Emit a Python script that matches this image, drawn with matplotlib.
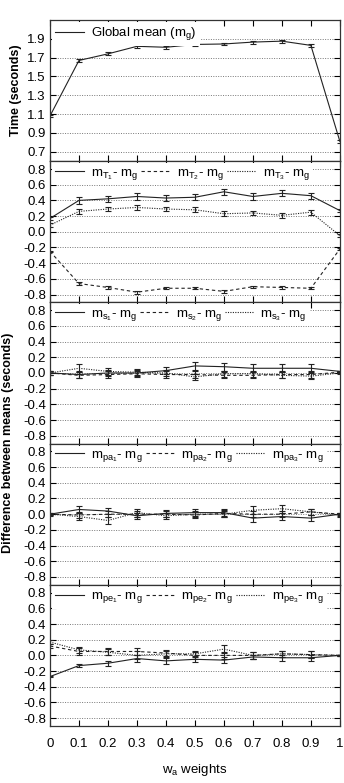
import matplotlib
matplotlib.use('Agg')
import matplotlib.pyplot as plt
from matplotlib.lines import Line2D

plt.rcParams['font.family'] = ['Liberation Sans', 'DejaVu Sans']
plt.rcParams['mathtext.default'] = 'regular'

# Gewichte w_a
gewichte = [0, 0.1, 0.2, 0.3, 0.4, 0.5, 0.6, 0.7, 0.8, 0.9, 1]
x_labels = ['0', '0.1', '0.2', '0.3', '0.4', '0.5', '0.6', '0.7', '0.8', '0.9', '1']

# Panel 1: globaler Mittelwert
m_g = [1.08, 1.67, 1.74, 1.82, 1.81, 1.84, 1.845, 1.865, 1.875, 1.83, 0.81]
m_g_err = [0.015, 0.02, 0.015, 0.015, 0.015, 0.015, 0.015, 0.015, 0.015, 0.015, 0.02]

# Panel 2: T
m_t1 = [0.17, 0.40, 0.42, 0.45, 0.43, 0.44, 0.51, 0.45, 0.49, 0.46, 0.27]
m_t2 = [-0.25, -0.66, -0.71, -0.77, -0.72, -0.72, -0.76, -0.70, -0.71, -0.72, -0.22]
m_t3 = [0.085, 0.26, 0.29, 0.31, 0.29, 0.28, 0.23, 0.24, 0.21, 0.25, -0.05]
m_t1_err = [0.02, 0.04, 0.04, 0.05, 0.04, 0.04, 0.04, 0.04, 0.04, 0.04, 0.02]
m_t2_err = [0.01, 0.015, 0.015, 0.02, 0.015, 0.015, 0.015, 0.015, 0.015, 0.015, 0.01]
m_t3_err = [0.03, 0.03, 0.03, 0.03, 0.03, 0.03, 0.03, 0.03, 0.03, 0.03, 0.02]

# Panel 3: s
m_s1 = [0.0, -0.02, 0.0, 0.0, 0.03, 0.09, 0.08, 0.06, 0.06, 0.06, 0.02]
m_s2 = [0.0, -0.03, -0.02, -0.01, -0.02, -0.02, -0.03, -0.03, -0.02, -0.02, 0.01]
m_s3 = [0.0, 0.06, 0.02, 0.01, 0.0, -0.05, -0.01, -0.01, -0.03, -0.04, 0.0]
m_s1_err = [0.03, 0.04, 0.04, 0.04, 0.04, 0.05, 0.05, 0.05, 0.05, 0.05, 0.01]
m_s2_err = [0.02, 0.04, 0.04, 0.04, 0.04, 0.04, 0.04, 0.04, 0.04, 0.04, 0.01]
m_s3_err = [0.02, 0.05, 0.04, 0.04, 0.04, 0.04, 0.04, 0.04, 0.04, 0.04, 0.01]

# Panel 4: pa
m_pa1 = [0.0, 0.06, 0.04, -0.02, 0.01, 0.02, 0.02, -0.05, -0.03, -0.05, 0.0]
m_pa2 = [0.0, -0.01, 0.0, 0.0, 0.0, -0.01, 0.01, 0.0, 0.0, 0.03, 0.0]
m_pa3 = [0.0, -0.03, -0.08, 0.02, -0.02, 0.0, 0.0, 0.05, 0.07, 0.03, -0.01]
m_pa1_err = [0.02, 0.05, 0.04, 0.04, 0.04, 0.04, 0.04, 0.05, 0.04, 0.04, 0.02]
m_pa2_err = [0.01, 0.04, 0.04, 0.04, 0.04, 0.04, 0.04, 0.04, 0.04, 0.04, 0.01]
m_pa3_err = [0.01, 0.04, 0.04, 0.05, 0.04, 0.04, 0.04, 0.05, 0.05, 0.04, 0.02]

# Panel 5: pe
m_pe1 = [-0.27, -0.13, -0.10, -0.04, -0.07, -0.05, -0.06, -0.02, -0.03, -0.03, 0.0]
m_pe2 = [0.12, 0.05, 0.05, 0.05, 0.03, 0.0, 0.0, 0.0, 0.02, 0.01, 0.0]
m_pe3 = [0.17, 0.07, 0.04, 0.0, 0.02, 0.02, 0.08, 0.0, 0.02, 0.01, 0.0]
m_pe1_err = [0.01, 0.02, 0.03, 0.04, 0.04, 0.04, 0.04, 0.03, 0.04, 0.04, 0.01]
m_pe2_err = [0.03, 0.04, 0.04, 0.04, 0.04, 0.04, 0.04, 0.04, 0.04, 0.04, 0.01]
m_pe3_err = [0.03, 0.04, 0.04, 0.05, 0.04, 0.04, 0.05, 0.04, 0.04, 0.04, 0.01]

LINIEN = ['-', (0, (3, 2.5)), (0, (1, 1.2))]
FARBE = '#222222'


def panel_zeichnen(ax, serien, fehler, labels, ylim, yticks):
    griffe = []
    for i, (werte, err, label) in enumerate(zip(serien, fehler, labels)):
        ax.errorbar(gewichte, werte, yerr=err, color=FARBE, lw=0.8,
                    ls=LINIEN[i], elinewidth=0.8, capsize=2.2, capthick=0.8)
        griffe.append(Line2D([], [], color=FARBE, lw=0.8, ls=LINIEN[i], label=label))
    ax.set_ylim(*ylim)
    ax.set_yticks(yticks)
    ax.set_yticklabels(['%.1f' % t for t in yticks])
    ax.yaxis.grid(True, ls=(0, (1, 1.5)), color='#777777', lw=0.7)
    ax.set_axisbelow(True)
    ax.set_xlim(0, 1)
    ax.set_xticks(gewichte)
    ax.tick_params(axis='both', direction='in', top=True, right=True,
                   labelsize=9.5, length=4, width=0.8, pad=3)
    leg = ax.legend(handles=griffe, loc='upper left', ncol=3, fontsize=9.5,
                    handlelength=2.2, columnspacing=0.25, handletextpad=0.5,
                    borderaxespad=0.15, borderpad=0.25, fancybox=False, framealpha=1)
    leg.get_frame().set_edgecolor('none')
    for s in ax.spines.values():
        s.set_linewidth(0.9)
        s.set_color('#333333')


fig, achsen = plt.subplots(5, 1, figsize=(3.44, 7.83), dpi=100, sharex=True)
fig.subplots_adjust(left=0.1453, right=0.988, top=0.9745, bottom=0.0728, hspace=0)

diff_ticks = [0.8, 0.6, 0.4, 0.2, 0.0, -0.2, -0.4, -0.6, -0.8]

panel_zeichnen(achsen[0], [m_g], [m_g_err], ['Global mean (m$_g$)'],
               (0.6, 2.1), [0.7, 0.9, 1.1, 1.3, 1.5, 1.7, 1.9])
panel_zeichnen(achsen[1], [m_t1, m_t2, m_t3], [m_t1_err, m_t2_err, m_t3_err],
               ['m$_{T_1}$- m$_g$', 'm$_{T_2}$- m$_g$', 'm$_{T_3}$- m$_g$'],
               (-0.9, 0.9), diff_ticks)
panel_zeichnen(achsen[2], [m_s1, m_s2, m_s3], [m_s1_err, m_s2_err, m_s3_err],
               ['m$_{s_1}$- m$_g$', 'm$_{s_2}$- m$_g$', 'm$_{s_3}$- m$_g$'],
               (-0.9, 0.9), diff_ticks)
panel_zeichnen(achsen[3], [m_pa1, m_pa2, m_pa3], [m_pa1_err, m_pa2_err, m_pa3_err],
               ['m$_{pa_1}$- m$_g$', 'm$_{pa_2}$- m$_g$', 'm$_{pa_3}$- m$_g$'],
               (-0.9, 0.9), diff_ticks)
panel_zeichnen(achsen[4], [m_pe1, m_pe2, m_pe3], [m_pe1_err, m_pe2_err, m_pe3_err],
               ['m$_{pe_1}$- m$_g$', 'm$_{pe_2}$- m$_g$', 'm$_{pe_3}$- m$_g$'],
               (-0.9, 0.9), diff_ticks)

achsen[4].set_xticklabels(x_labels)
achsen[4].tick_params(axis='x', pad=9)
achsen[4].set_xlabel('w$_a$ weights', fontsize=9.5, labelpad=8)

achsen[0].set_ylabel('Time (seconds)', fontsize=9, fontweight='bold', labelpad=4)
fig.text(0.024, (1 - 443 / 783), 'Difference between means (seconds)',
         rotation=90, ha='center', va='center', fontsize=9, fontweight='bold')

plt.savefig('out.png', dpi=100)
plt.close()
